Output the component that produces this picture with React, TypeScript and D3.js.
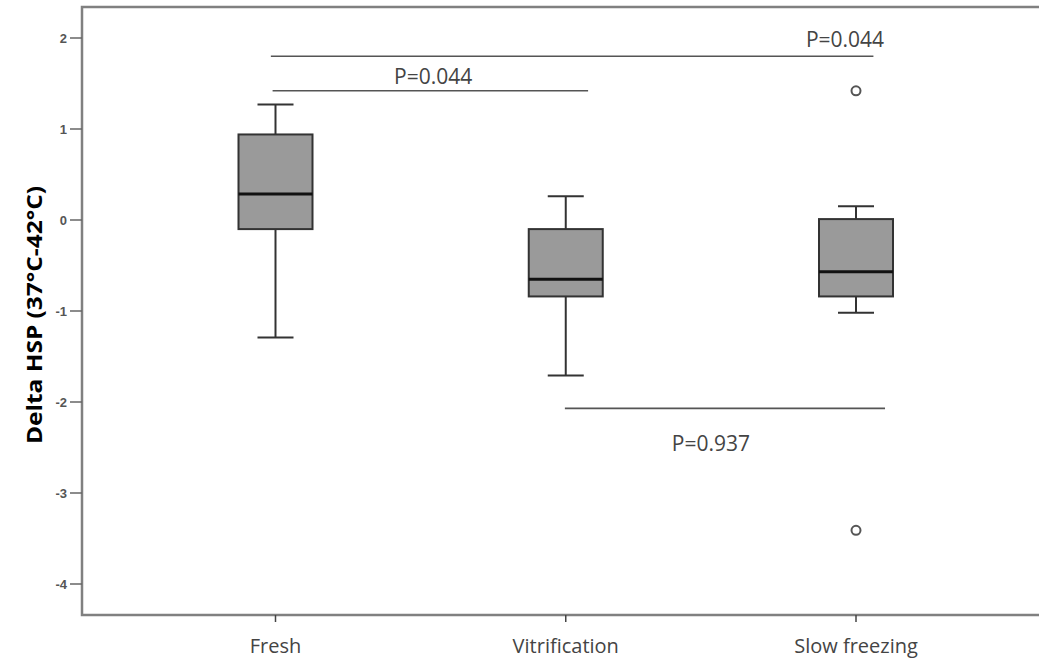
import React from "react";
import * as d3 from "d3";

const categories = ["Fresh", "Vitrification", "Slow freezing"];
const whiskerLow = [-1.29, -1.71, -1.02];
const q1 = [-0.1, -0.84, -0.84];
const median = [0.285, -0.65, -0.57];
const q3 = [0.94, -0.1, 0.01];
const whiskerHigh = [1.27, 0.26, 0.15];
const outlierGroup = [2, 2];
const outlierValue = [1.42, -3.41];
const yTicks = [2, 1, 0, -1, -2, -3, -4];

// comparison brackets (category-index units for ends, data units for heights)
const bracketFrom = [-0.016, -0.01, 0.997];
const bracketTo = [2.06, 1.077, 2.1];
const bracketY = [1.8, 1.42, -2.07];
const bracketLabel = ["P=0.044", "P=0.044", "P=0.937"];
const labelX = [1.962, 0.543, 1.5];
const labelY = [1.9, 1.5, -2.54];

export default function App() {
  const W = 1039, H = 661;
  const left = 82, top = 7, bottom = 615, right = 1039;
  const y = d3.scaleLinear().domain([-4, 2]).range([584, 38]);
  const xp = d3.scalePoint<string>().domain(categories).range([275.5, 856]);
  const xi = d3.scaleLinear().domain([0, 2]).range([275.5, 856]);
  const boxW = 74, capW = 36;
  const dark = "#333";

  return (
    <svg width={W} height={H} style={{ position: "absolute", left: 0, top: 0, background: "#fff" }}>
      {/* frame */}
      <path d={`M${right},${top}H${left}V${bottom}H${right}`} fill="none" stroke="#808080" strokeWidth={2.5} />
      {/* y ticks */}
      {yTicks.map((t) => (
        <g key={t}>
          <line x1={70} x2={left} y1={y(t)} y2={y(t)} stroke="#666" strokeWidth={1.5} />
          <text x={67} y={y(t) + 4.5} textAnchor="end" fontFamily="Liberation Sans, Arial" fontSize={13} fontWeight="bold" fill="#555">
            {t}
          </text>
        </g>
      ))}
      {/* x ticks */}
      {categories.map((c) => (
        <g key={c}>
          <line x1={xp(c)} x2={xp(c)} y1={bottom} y2={bottom + 7} stroke="#444" strokeWidth={1.5} />
          <text x={xp(c)} y={653} textAnchor="middle" fontFamily="Open Sans" fontSize={20} fill="#444">
            {c}
          </text>
        </g>
      ))}
      {/* y label */}
      <text
        transform={`translate(42,${315}) rotate(-90)`}
        textAnchor="middle"
        fontFamily="Open Sans"
        fontWeight="bold"
        fontSize={22}
        textLength={258}
        lengthAdjust="spacingAndGlyphs"
        fill="#000"
      >
        Delta HSP (37°C-42°C)
      </text>
      {/* boxes */}
      {categories.map((c, i) => {
        const cx = xp(c)!;
        return (
          <g key={c}>
            <line x1={cx} x2={cx} y1={y(whiskerHigh[i])} y2={y(q3[i])} stroke={dark} strokeWidth={2} />
            <line x1={cx} x2={cx} y1={y(q1[i])} y2={y(whiskerLow[i])} stroke={dark} strokeWidth={2} />
            <line x1={cx - capW / 2} x2={cx + capW / 2} y1={y(whiskerHigh[i])} y2={y(whiskerHigh[i])} stroke={dark} strokeWidth={2} />
            <line x1={cx - capW / 2} x2={cx + capW / 2} y1={y(whiskerLow[i])} y2={y(whiskerLow[i])} stroke={dark} strokeWidth={2} />
            <rect
              x={cx - boxW / 2}
              y={y(q3[i])}
              width={boxW}
              height={y(q1[i]) - y(q3[i])}
              fill="#9a9a9a"
              stroke={dark}
              strokeWidth={2}
            />
            <line x1={cx - boxW / 2} x2={cx + boxW / 2} y1={y(median[i])} y2={y(median[i])} stroke="#111" strokeWidth={3} />
          </g>
        );
      })}
      {/* outliers */}
      {outlierValue.map((v, k) => (
        <circle key={k} cx={xi(outlierGroup[k])} cy={y(v)} r={4.5} fill="none" stroke="#555" strokeWidth={2} />
      ))}
      {/* brackets */}
      {bracketLabel.map((lab, k) => (
        <g key={k}>
          <line x1={xi(bracketFrom[k])} x2={xi(bracketTo[k])} y1={y(bracketY[k])} y2={y(bracketY[k])} stroke="#555" strokeWidth={1.6} />
          <text x={xi(labelX[k])} y={y(labelY[k])} textAnchor="middle" fontFamily="Open Sans" fontSize={21} fill="#444">
            {lab}
          </text>
        </g>
      ))}
    </svg>
  );
}
